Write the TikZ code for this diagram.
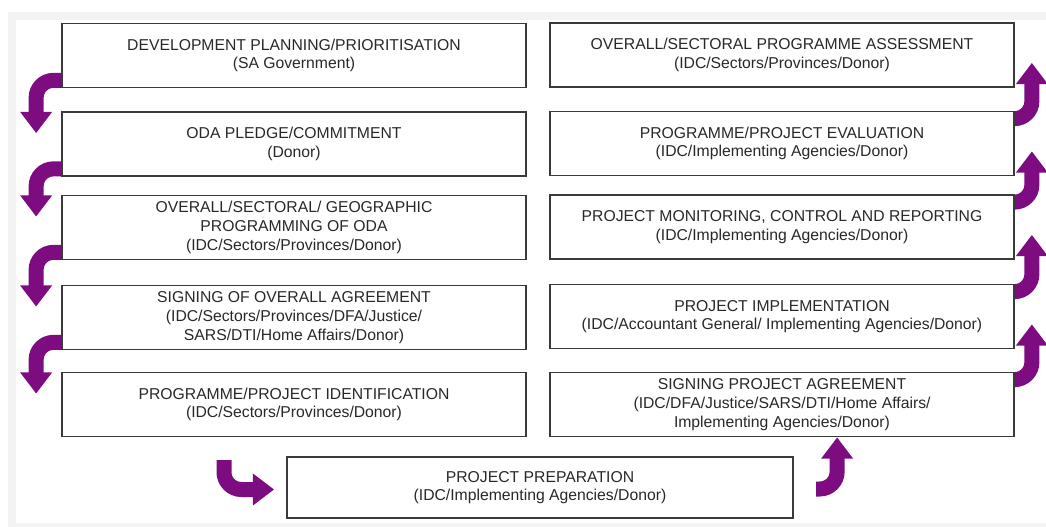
\documentclass[tikz,border=0pt]{standalone}
\usepackage{fontspec}
\setmainfont{Liberation Sans}
\usetikzlibrary{arrows.meta,calc,backgrounds}
\definecolor{framegrey}{RGB}{243,243,243}
\definecolor{boxline}{RGB}{58,58,58}
\definecolor{textc}{RGB}{40,40,40}
\definecolor{flowc}{RGB}{125,12,128}
\tikzset{
  stage/.style={draw=boxline, line width=1.3pt, fill=white, align=center,
    text=textc, inner sep=0pt, minimum width=348pt, minimum height=48pt,
    font=\fontsize{11.8pt}{14pt}\selectfont},
  flow/.style={draw=flowc, line width=11.25pt, rounded corners=13pt,
    -{Triangle[length=16pt,width=23pt]}}
}
\begin{document}
\begin{tikzpicture}[x=0.75pt,y=-0.75pt]
% page and light frame
\useasboundingbox (0,0) rectangle (1046,527);

% left column (top to bottom)
\node[stage] (L1) at (294,55.5) {DEVELOPMENT PLANNING/PRIORITISATION\\(SA Government)};
\node[stage] (L2) at (294,144) {ODA PLEDGE/COMMITMENT\\(Donor)};
\node[stage] (L3) at (294,227.5) {OVERALL/SECTORAL/ GEOGRAPHIC\\PROGRAMMING OF ODA\\(IDC/Sectors/Provinces/Donor)};
\node[stage] (L4) at (294,317.5) {SIGNING OF OVERALL AGREEMENT\\(IDC/Sectors/Provinces/DFA/Justice/\\SARS/DTI/Home Affairs/Donor)};
\node[stage] (L5) at (294,404.5) {PROGRAMME/PROJECT IDENTIFICATION\\(IDC/Sectors/Provinces/Donor)};

% bottom stage
\node[stage, minimum width=379.5pt, minimum height=45.75pt] (P) at (540,487.5) {PROJECT PREPARATION\\(IDC/Implementing Agencies/Donor)};

% right column (bottom to top)
\node[stage] (R5) at (782,404.5) {SIGNING PROJECT AGREEMENT\\(IDC/DFA/Justice/SARS/DTI/Home Affairs/\\Implementing Agencies/Donor)};
\node[stage] (R4) at (782,316.5) {PROJECT IMPLEMENTATION\\(IDC/Accountant General/ Implementing Agencies/Donor)};
\node[stage] (R3) at (782,227) {PROJECT MONITORING, CONTROL AND REPORTING\\(IDC/Implementing Agencies/Donor)};
\node[stage] (R2) at (782,143.5) {PROGRAMME/PROJECT EVALUATION\\(IDC/Implementing Agencies/Donor)};
\node[stage] (R1) at (782,55) {OVERALL/SECTORAL PROGRAMME ASSESSMENT\\(IDC/Sectors/Provinces/Donor)};

\coordinate (hookL) at (224,460);
\coordinate (hookR) at (816,489);

\begin{scope}[on background layer]
  \fill[white] (0,0) rectangle (1046,527);
  \fill[framegrey] (8,12) rectangle (1046,527);
  \fill[white] (16,20) rectangle (1046,523);

  % downward flow on the left
  \draw[flow] ($(L1.south west)+(4,-8)$) -| ($(L2.north west)+(-25,22)$);
  \draw[flow] ($(L2.south west)+(4,-8)$) -| ($(L3.north west)+(-25,22)$);
  \draw[flow] ($(L3.south west)+(4,-8)$) -| ($(L4.north west)+(-25,22)$);
  \draw[flow] ($(L4.south west)+(4,-8)$) -| ($(L5.north west)+(-25,22)$);

  % across the bottom
  \draw[flow] (hookL) |- ($(P.west)+(-12,2)$);
  \draw[flow] (hookR) -| ($(R5.south west)+(288,0)$);

  % upward flow on the right
  \draw[flow] ($(R5.north east)+(-4,8)$) -| ($(R4.south east)+(17,-25)$);
  \draw[flow] ($(R4.north east)+(-4,8)$) -| ($(R3.south east)+(17,-25)$);
  \draw[flow] ($(R3.north east)+(-4,8)$) -| ($(R2.south east)+(17,-25)$);
  \draw[flow] ($(R2.north east)+(-4,8)$) -| ($(R1.south east)+(17,-25)$);
\end{scope}
\end{tikzpicture}
\end{document}
